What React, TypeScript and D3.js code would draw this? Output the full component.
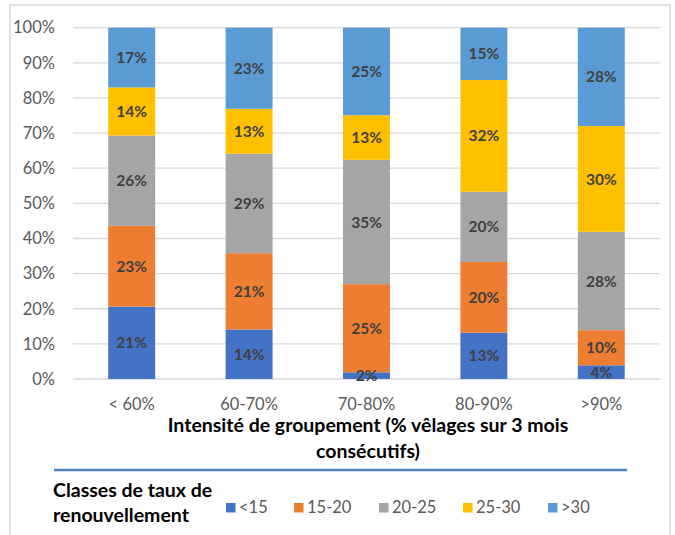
import React from "react";
import * as d3 from "d3";

const categories = ["< 60%", "60-70%", "70-80%", "80-90%", ">90%"];
const seriesNames = ["<15", "15-20", "20-25", "25-30", ">30"];
const s_lt15 = [20.6, 14.1, 1.9, 13.2, 3.9];
const s_15_20 = [23.0, 21.7, 25.1, 20.1, 10.0];
const s_20_25 = [25.7, 28.3, 35.4, 20.0, 28.0];
const s_25_30 = [13.7, 12.8, 12.7, 31.8, 30.1];
const s_gt30 = [17.0, 23.1, 24.9, 14.9, 28.0];
const labels_lt15 = ["21%", "14%", "2%", "13%", "4%"];
const labels_15_20 = ["23%", "21%", "25%", "20%", "10%"];
const labels_20_25 = ["26%", "29%", "35%", "20%", "28%"];
const labels_25_30 = ["14%", "13%", "13%", "32%", "30%"];
const labels_gt30 = ["17%", "23%", "25%", "15%", "28%"];
const yTicks = [0, 10, 20, 30, 40, 50, 60, 70, 80, 90, 100];
const colors = ["#4472C4", "#ED7D31", "#A5A5A5", "#FFC000", "#5B9BD5"];

const FONT = "Lato, 'Open Sans', sans-serif";

export default function App() {
  const W = 675, H = 535;
  const left = 73, right = 660, top = 27.7, bottom = 379;
  const x = d3.scaleBand().domain(categories).range([left, right]).paddingInner(0.6).paddingOuter(0.3);
  const y = d3.scaleLinear().domain([0, 100]).range([bottom, top]);
  const allSeries = [s_lt15, s_15_20, s_20_25, s_25_30, s_gt30];
  const allLabels = [labels_lt15, labels_15_20, labels_20_25, labels_25_30, labels_gt30];
  const table = categories.map((c, i) => {
    const row: any = { cat: c };
    seriesNames.forEach((s, k) => (row[s] = allSeries[k][i]));
    return row;
  });
  const stacked = d3.stack().keys(seriesNames)(table);
  const legendX = [226, 294, 379, 463, 548];

  return (
    <svg width={W} height={H} style={{ position: "absolute", left: 0, top: 0, fontFamily: FONT }}>
      <rect x={10} y={5} width={660} height={540} fill="#fff" stroke="#D9D9D9" strokeWidth={1.5} />
      {yTicks.map((t) => (
        <g key={t}>
          <line x1={left} x2={right} y1={y(t)} y2={y(t)} stroke="#D9D9D9" strokeWidth={1.3} />
          <text x={55} y={y(t)} dy="0.35em" textAnchor="end" fontSize={16.5} fill="#595959">
            {t}%
          </text>
        </g>
      ))}
      {stacked.map((layer, k) => (
        <g key={layer.key} fill={colors[k]}>
          {layer.map((d, i) => (
            <rect key={i} x={x(categories[i])} width={x.bandwidth()} y={y(d[1])} height={y(d[0]) - y(d[1])} />
          ))}
        </g>
      ))}
      {stacked.map((layer, k) => (
        <g key={"l" + layer.key}>
          {layer.map((d, i) => (
            <text
              key={i}
              x={(x(categories[i]) as number) + x.bandwidth() / 2}
              y={(y(d[0]) + y(d[1])) / 2}
              dy="0.36em"
              textAnchor="middle"
              fontSize={15.5}
              fontWeight="bold"
              fill="#404040"
            >
              {allLabels[k][i]}
            </text>
          ))}
        </g>
      ))}
      {categories.map((c) => (
        <text key={c} x={(x(c) as number) + x.bandwidth() / 2} y={404} dy="0.35em" textAnchor="middle" fontSize={16.5} fill="#595959">
          {c}
        </text>
      ))}
      <text x={368} y={432} textAnchor="middle" fontSize={19.5} fontWeight="bold" fill="#000">
        Intensité de groupement (% vêlages sur 3 mois
      </text>
      <text x={368} y={458} textAnchor="middle" fontSize={19.5} fontWeight="bold" fill="#000">
        consécutifs)
      </text>
      <line x1={54} x2={627} y1={470} y2={470} stroke="#4F81BD" strokeWidth={2.5} />
      <text x={53} y={497} fontSize={19.5} fontWeight="bold" fill="#000">Classes de taux de</text>
      <text x={53} y={522} fontSize={19.5} fontWeight="bold" fill="#000">renouvellement</text>
      {seriesNames.map((s, k) => (
        <g key={s}>
          <rect x={legendX[k]} y={503} width={9.5} height={9.5} fill={colors[k]} />
          <text x={legendX[k] + 13} y={507.5} dy="0.35em" fontSize={16.5} fill="#595959">{s}</text>
        </g>
      ))}
    </svg>
  );
}
